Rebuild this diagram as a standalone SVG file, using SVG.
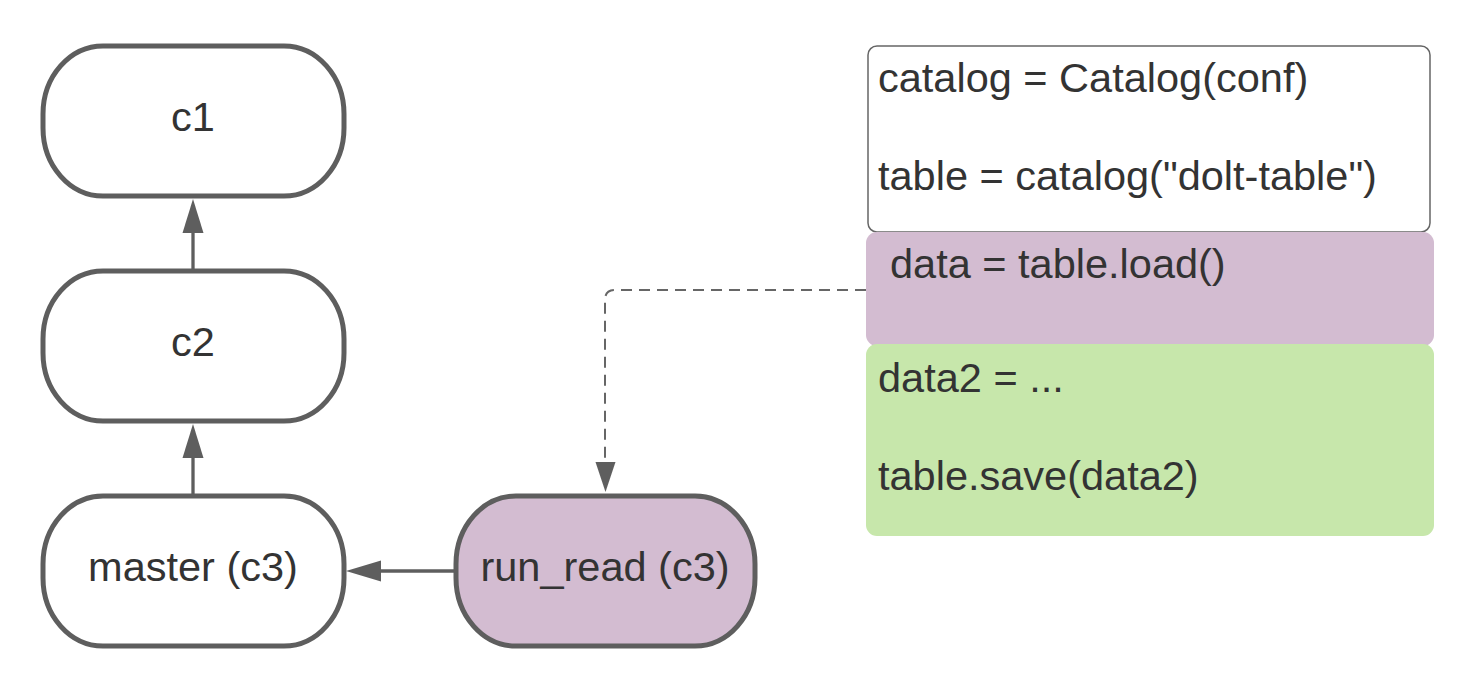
<svg xmlns="http://www.w3.org/2000/svg" width="1472" height="686" viewBox="0 0 1472 686">
<style>
.node{fill:#fff;stroke:#5e5e5e;stroke-width:5}
.lbl{font-family:"Liberation Sans",Arial,sans-serif;font-size:41.5px;fill:#333}
.conn{stroke:#5e5e5e;stroke-width:3.3;fill:none}
.dash{stroke:#666;stroke-width:2;fill:none;stroke-dasharray:11 7}
.head{fill:#5e5e5e}
</style>
<rect width="1472" height="686" fill="#fff"/>
<g id="connectors">
<line class="conn" x1="193" y1="270" x2="193" y2="230"/>
<path class="head" d="M182.5,233 L193,199 L203.5,233 z"/>
<line class="conn" x1="193" y1="495" x2="193" y2="455"/>
<path class="head" d="M182.5,458 L193,424 L203.5,458 z"/>
<line class="conn" x1="455" y1="571" x2="376" y2="571"/>
<path class="head" d="M381,560.5 L346,571 L381,581.5 z"/>
<path class="dash" d="M866,290 L615,290 Q605,290 605,300 L605,464"/>
<path class="head" d="M595.5,462 L605.5,492 L615.5,462 z"/>
</g>
<g id="c1">
<rect class="node" x="43" y="46" width="301" height="150" rx="60" ry="68"/>
<text class="lbl" x="193" y="131" text-anchor="middle">c1</text>
</g>
<g id="c2">
<rect class="node" x="43" y="271" width="301" height="150" rx="60" ry="68"/>
<text class="lbl" x="193" y="356" text-anchor="middle">c2</text>
</g>
<g id="master">
<rect class="node" x="43" y="496" width="301" height="150" rx="60" ry="68"/>
<text class="lbl" x="193" y="581" text-anchor="middle">master (c3)</text>
</g>
<g id="run_read">
<rect class="node" x="456" y="496" width="299" height="150" rx="60" ry="68" style="fill:#d3bcd1"/>
<text class="lbl" x="605" y="581" text-anchor="middle">run_read (c3)</text>
</g>
<g id="code1">
<rect x="868" y="46" width="562" height="186" rx="9" fill="#fff" stroke="#666" stroke-width="1.5"/>
<text class="lbl" x="878" y="92">catalog = Catalog(conf)</text>
<text class="lbl" x="878" y="190">table = catalog("dolt-table")</text>
</g>
<g id="code2">
<rect x="866" y="232" width="568" height="114" rx="11" fill="#d3bcd1"/>
<text class="lbl" x="890" y="278">data = table.load()</text>
</g>
<g id="code3">
<rect x="866" y="344" width="568" height="192" rx="11" fill="#c7e7ab"/>
<text class="lbl" x="878" y="392">data2 = ...</text>
<text class="lbl" x="878" y="490">table.save(data2)</text>
</g>
</svg>
